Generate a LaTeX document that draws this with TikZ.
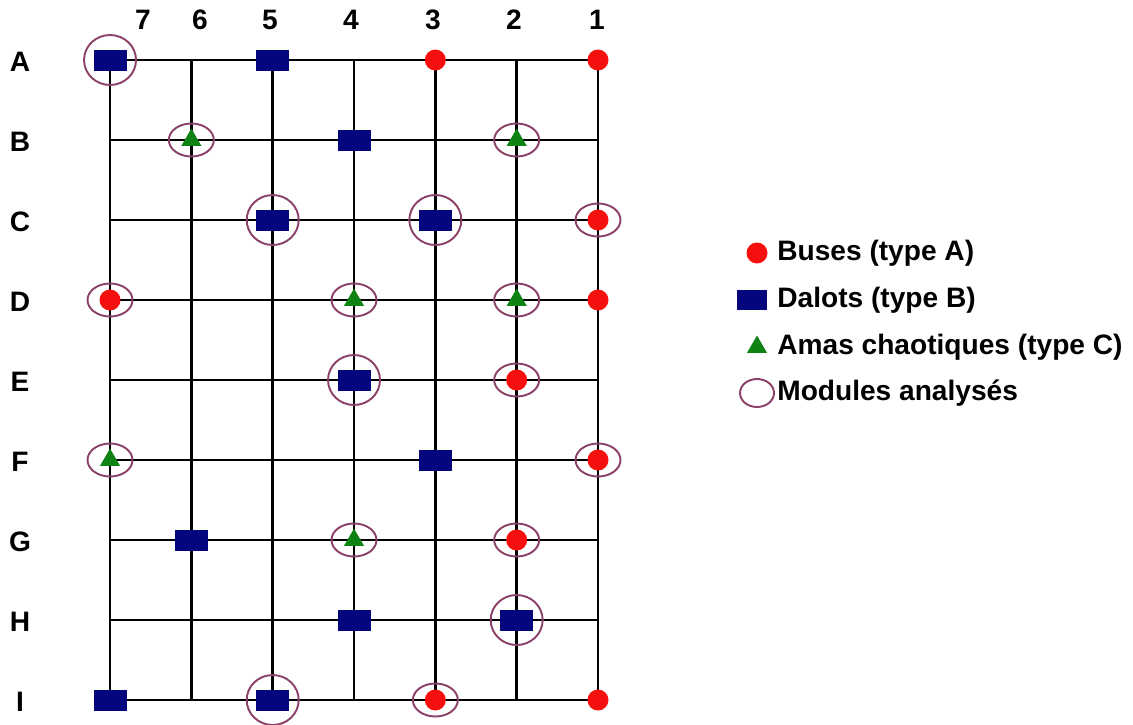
\documentclass[tikz,border=0pt]{standalone}
\usepackage{fontspec}
\setmainfont{Liberation Sans}
\usepackage{xcolor}
\usepackage{tikz}
\usetikzlibrary{shapes.geometric}

\definecolor{rouge}{RGB}{245,15,15}
\definecolor{marine}{RGB}{5,5,125}
\definecolor{vert}{RGB}{15,130,20}
\definecolor{mauve}{RGB}{140,65,105}

\begin{document}
\begin{tikzpicture}[x=0.02cm, y=-0.02cm,
  every node/.style={font=\fontsize{16}{19}\selectfont\bfseries},
  grille/.style={line width=1.4pt},
  buse/.style={circle, fill=rouge, inner sep=0pt, minimum size=0.42cm},
  dalot/.style={rectangle, fill=marine, inner sep=0pt, minimum width=0.66cm, minimum height=0.42cm},
  amas/.style={regular polygon, regular polygon sides=3, fill=vert, inner sep=0pt, minimum size=0.46cm},
  module/.style={ellipse, draw=mauve, line width=1.1pt, inner sep=0pt, minimum width=0.9cm, minimum height=0.66cm},
  grand/.style={minimum width=1.04cm, minimum height=1.0cm}]
\useasboundingbox (0,0) rectangle (1133,724);
% grid points
\foreach \r [count=\i from 0] in {A,B,C,D,E,F,G,H,I}
  \foreach \c in {1,...,7}
    \coordinate (\r\c) at ({598-81.33*(\c-1)}, {60+80*\i});
\foreach \r in {A,B,C,D,E,F,G,H,I}
  \draw[grille] (\r7) -- (\r1);
\foreach \c in {1,...,7}
  \draw[grille] (A\c) -- (I\c);
% labels
\foreach \r [count=\i from 0] in {A,B,C,D,E,F,G,H,I}
  \node (l\r) at (20, {62+80*\i}) {\r};
\foreach \c/\x in {7/143,6/200,5/270,4/351,3/433,2/514,1/597}
  \node (n\c) at (\x,20) {\c};
% ouvrages
\foreach \p in {A3,A1,C1,D7,D1,E2,F1,G2,I3,I1}
  \node[buse] (b\p) at (\p) {};
\foreach \p in {A7,A5,B4,C5,C3,E4,F3,G6,H4,H2,I7,I5}
  \node[dalot] (d\p) at (\p) {};
\foreach \p in {B6,B2,D4,D2,F7,G4}
  \node[amas] (a\p) at (\p) {};
\foreach \p in {A7,C5,C3,E4,H2,I5}
  \node[module, grand] (m\p) at (\p) {};
\foreach \p in {B6,B2,C1,D7,D4,D2,E2,F7,F1,G4,G2,I3}
  \node[module] (m\p) at (\p) {};
% legende
\node[buse] (lgb) at (757,253) {};
\node[anchor=west, inner sep=0pt] (lgbt) at (777,253) {Buses (type A)};
\node[dalot, minimum width=0.6cm, minimum height=0.4cm] (lgd) at (752,300) {};
\node[anchor=west, inner sep=0pt] (lgdt) at (777,300) {Dalots (type B)};
\node[amas] (lga) at (757,347) {};
\node[anchor=west, inner sep=0pt] (lgat) at (777,347) {Amas chaotiques (type C)};
\node[module, minimum width=0.68cm, minimum height=0.56cm] (lgm) at (757,393) {};
\node[anchor=west, inner sep=0pt] (lgmt) at (777,393) {Modules analysés};
\end{tikzpicture}
\end{document}
